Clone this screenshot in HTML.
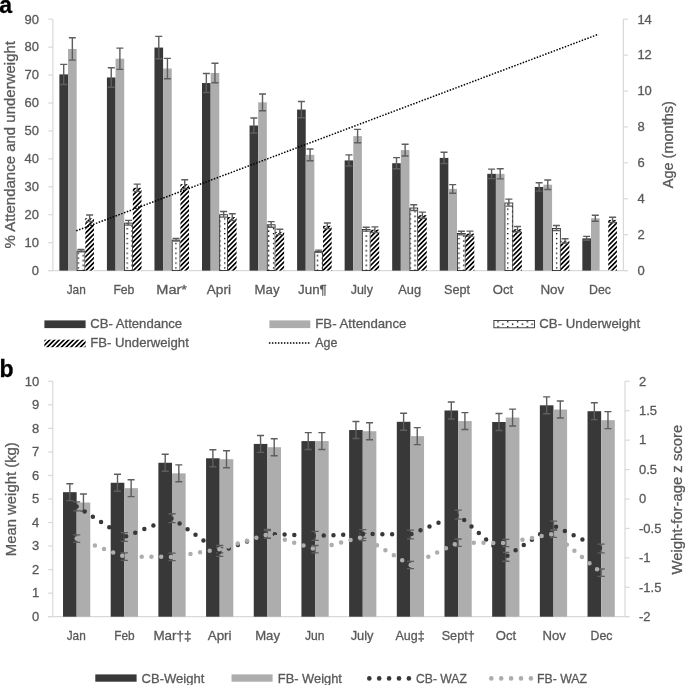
<!DOCTYPE html><html><head><meta charset="utf-8"><style>html,body{margin:0;padding:0;background:#fff;width:685px;height:685px;overflow:hidden}svg{display:block;will-change:transform}text{font-family:"Liberation Sans",sans-serif;fill:#595959;stroke:#595959;stroke-width:0.3px}</style></head><body>
<svg width="685" height="685" viewBox="0 0 685 685">
<defs>
<pattern id="dots" patternUnits="userSpaceOnUse" width="9.76" height="4.9" x="-0.38" y="2.7"><rect width="9.76" height="4.9" fill="#fff"/><rect x="-0.1" y="-0.1" width="1.4" height="1.4" fill="#000"/><rect x="4.78" y="2.35" width="1.4" height="1.4" fill="#000"/></pattern>
<pattern id="hatch" patternUnits="userSpaceOnUse" width="3.35" height="3.35" patternTransform="rotate(45)"><rect width="3.35" height="3.35" fill="#fff"/><rect x="0" y="0" width="1.65" height="3.35" fill="#000"/></pattern>
</defs>
<rect width="685" height="685" fill="#fff"/>
<text x="-0.67" y="12.8" font-size="23" style="fill:#000;stroke:#000" font-weight="bold">a</text>
<line x1="52.9" y1="19.2" x2="52.9" y2="270.6" stroke="#d9d9d9" stroke-width="1.2"/>
<line x1="623.4" y1="19.2" x2="623.4" y2="270.6" stroke="#d9d9d9" stroke-width="1.2"/>
<line x1="48.3" y1="270.6" x2="52.9" y2="270.6" stroke="#d9d9d9" stroke-width="1.2"/>
<text x="39" y="274.9" font-size="13" text-anchor="end">0</text>
<line x1="48.3" y1="242.67" x2="52.9" y2="242.67" stroke="#d9d9d9" stroke-width="1.2"/>
<text x="39" y="246.97" font-size="13" text-anchor="end">10</text>
<line x1="48.3" y1="214.73" x2="52.9" y2="214.73" stroke="#d9d9d9" stroke-width="1.2"/>
<text x="39" y="219.03" font-size="13" text-anchor="end">20</text>
<line x1="48.3" y1="186.8" x2="52.9" y2="186.8" stroke="#d9d9d9" stroke-width="1.2"/>
<text x="39" y="191.1" font-size="13" text-anchor="end">30</text>
<line x1="48.3" y1="158.87" x2="52.9" y2="158.87" stroke="#d9d9d9" stroke-width="1.2"/>
<text x="39" y="163.17" font-size="13" text-anchor="end">40</text>
<line x1="48.3" y1="130.93" x2="52.9" y2="130.93" stroke="#d9d9d9" stroke-width="1.2"/>
<text x="39" y="135.23" font-size="13" text-anchor="end">50</text>
<line x1="48.3" y1="103" x2="52.9" y2="103" stroke="#d9d9d9" stroke-width="1.2"/>
<text x="39" y="107.3" font-size="13" text-anchor="end">60</text>
<line x1="48.3" y1="75.07" x2="52.9" y2="75.07" stroke="#d9d9d9" stroke-width="1.2"/>
<text x="39" y="79.37" font-size="13" text-anchor="end">70</text>
<line x1="48.3" y1="47.13" x2="52.9" y2="47.13" stroke="#d9d9d9" stroke-width="1.2"/>
<text x="39" y="51.43" font-size="13" text-anchor="end">80</text>
<line x1="48.3" y1="19.2" x2="52.9" y2="19.2" stroke="#d9d9d9" stroke-width="1.2"/>
<text x="39" y="23.5" font-size="13" text-anchor="end">90</text>
<line x1="623.4" y1="270.6" x2="628" y2="270.6" stroke="#d9d9d9" stroke-width="1.2"/>
<text x="637.4" y="274.9" font-size="13">0</text>
<line x1="623.4" y1="234.69" x2="628" y2="234.69" stroke="#d9d9d9" stroke-width="1.2"/>
<text x="637.4" y="238.99" font-size="13">2</text>
<line x1="623.4" y1="198.77" x2="628" y2="198.77" stroke="#d9d9d9" stroke-width="1.2"/>
<text x="637.4" y="203.07" font-size="13">4</text>
<line x1="623.4" y1="162.86" x2="628" y2="162.86" stroke="#d9d9d9" stroke-width="1.2"/>
<text x="637.4" y="167.16" font-size="13">6</text>
<line x1="623.4" y1="126.94" x2="628" y2="126.94" stroke="#d9d9d9" stroke-width="1.2"/>
<text x="637.4" y="131.24" font-size="13">8</text>
<line x1="623.4" y1="91.03" x2="628" y2="91.03" stroke="#d9d9d9" stroke-width="1.2"/>
<text x="637.4" y="95.33" font-size="13">10</text>
<line x1="623.4" y1="55.11" x2="628" y2="55.11" stroke="#d9d9d9" stroke-width="1.2"/>
<text x="637.4" y="59.41" font-size="13">12</text>
<line x1="623.4" y1="19.2" x2="628" y2="19.2" stroke="#d9d9d9" stroke-width="1.2"/>
<text x="637.4" y="23.5" font-size="13">14</text>
<line x1="48.3" y1="270.6" x2="628" y2="270.6" stroke="#d9d9d9" stroke-width="1.2"/>
<rect x="59.38" y="74.39" width="8.64" height="196.21" fill="#383838"/>
<rect x="68.03" y="48.97" width="8.64" height="221.63" fill="#adadad"/>
<rect x="77.07" y="251.05" width="7.84" height="19.55" fill="url(#dots)" stroke="#1a1a1a" stroke-width="0.8"/>
<rect x="85.31" y="218.24" width="8.64" height="52.36" fill="url(#hatch)"/>
<rect x="106.92" y="77.46" width="8.64" height="193.14" fill="#383838"/>
<rect x="115.57" y="58.74" width="8.64" height="211.86" fill="#adadad"/>
<rect x="124.61" y="223.11" width="7.84" height="47.49" fill="url(#dots)" stroke="#1a1a1a" stroke-width="0.8"/>
<rect x="132.86" y="187.8" width="8.64" height="82.8" fill="url(#hatch)"/>
<rect x="154.47" y="47.57" width="8.64" height="223.03" fill="#383838"/>
<rect x="163.11" y="68.52" width="8.64" height="202.08" fill="#adadad"/>
<rect x="172.15" y="240.15" width="7.84" height="30.45" fill="url(#dots)" stroke="#1a1a1a" stroke-width="0.8"/>
<rect x="180.4" y="184.17" width="8.64" height="86.43" fill="url(#hatch)"/>
<rect x="202.01" y="83.05" width="8.64" height="187.55" fill="#383838"/>
<rect x="210.65" y="72.99" width="8.64" height="197.61" fill="#adadad"/>
<rect x="219.7" y="214.73" width="7.84" height="55.87" fill="url(#dots)" stroke="#1a1a1a" stroke-width="0.8"/>
<rect x="227.94" y="217.13" width="8.64" height="53.47" fill="url(#hatch)"/>
<rect x="249.55" y="125.51" width="8.64" height="145.09" fill="#383838"/>
<rect x="258.19" y="102.32" width="8.64" height="168.28" fill="#adadad"/>
<rect x="267.24" y="224.79" width="7.84" height="45.81" fill="url(#dots)" stroke="#1a1a1a" stroke-width="0.8"/>
<rect x="275.48" y="231.93" width="8.64" height="38.67" fill="url(#hatch)"/>
<rect x="297.09" y="109.58" width="8.64" height="161.02" fill="#383838"/>
<rect x="305.74" y="154.84" width="8.64" height="115.76" fill="#adadad"/>
<rect x="314.78" y="251.61" width="7.84" height="18.99" fill="url(#dots)" stroke="#1a1a1a" stroke-width="0.8"/>
<rect x="323.02" y="225.79" width="8.64" height="44.81" fill="url(#hatch)"/>
<rect x="344.63" y="160.42" width="8.64" height="110.18" fill="#383838"/>
<rect x="353.28" y="136.12" width="8.64" height="134.48" fill="#adadad"/>
<rect x="362.32" y="229.54" width="7.84" height="41.06" fill="url(#dots)" stroke="#1a1a1a" stroke-width="0.8"/>
<rect x="370.56" y="229.7" width="8.64" height="40.9" fill="url(#hatch)"/>
<rect x="392.17" y="163.22" width="8.64" height="107.38" fill="#383838"/>
<rect x="400.82" y="150.09" width="8.64" height="120.51" fill="#adadad"/>
<rect x="409.86" y="208.03" width="7.84" height="62.57" fill="url(#dots)" stroke="#1a1a1a" stroke-width="0.8"/>
<rect x="418.11" y="215.17" width="8.64" height="55.43" fill="url(#hatch)"/>
<rect x="439.72" y="157.91" width="8.64" height="112.69" fill="#383838"/>
<rect x="448.36" y="188.91" width="8.64" height="81.69" fill="#adadad"/>
<rect x="457.4" y="233.45" width="7.84" height="37.15" fill="url(#dots)" stroke="#1a1a1a" stroke-width="0.8"/>
<rect x="465.65" y="233.61" width="8.64" height="36.99" fill="url(#hatch)"/>
<rect x="487.26" y="173.83" width="8.64" height="96.77" fill="#383838"/>
<rect x="495.9" y="173.83" width="8.64" height="96.77" fill="#adadad"/>
<rect x="504.95" y="203" width="7.84" height="67.6" fill="url(#dots)" stroke="#1a1a1a" stroke-width="0.8"/>
<rect x="513.19" y="229.14" width="8.64" height="41.46" fill="url(#hatch)"/>
<rect x="534.8" y="186.96" width="8.64" height="83.64" fill="#383838"/>
<rect x="543.44" y="184.72" width="8.64" height="85.88" fill="#adadad"/>
<rect x="552.49" y="228.42" width="7.84" height="42.18" fill="url(#dots)" stroke="#1a1a1a" stroke-width="0.8"/>
<rect x="560.73" y="240.87" width="8.64" height="29.73" fill="url(#hatch)"/>
<rect x="582.34" y="238.36" width="8.64" height="32.24" fill="#383838"/>
<rect x="590.99" y="218.24" width="8.64" height="52.36" fill="#adadad"/>
<rect x="608.27" y="219.92" width="8.64" height="50.68" fill="url(#hatch)"/>
<path d="M63.7 64.33V84.44M60.2 64.33H67.2M60.2 84.44H67.2" stroke="#5e5e5e" stroke-width="1.4" fill="none"/>
<path d="M72.35 37.79V60.14M68.85 37.79H75.85M68.85 60.14H75.85" stroke="#5e5e5e" stroke-width="1.4" fill="none"/>
<path d="M80.99 249.53V251.76M77.49 249.53H84.49M77.49 251.76H84.49" stroke="#5e5e5e" stroke-width="1.4" fill="none"/>
<path d="M89.64 215.03V221.46M86.14 215.03H93.14M86.14 221.46H93.14" stroke="#5e5e5e" stroke-width="1.4" fill="none"/>
<path d="M111.25 67.68V87.24M107.75 67.68H114.75M107.75 87.24H114.75" stroke="#5e5e5e" stroke-width="1.4" fill="none"/>
<path d="M119.89 48.13V69.36M116.39 48.13H123.39M116.39 69.36H123.39" stroke="#5e5e5e" stroke-width="1.4" fill="none"/>
<path d="M128.53 220.34V225.09M125.03 220.34H132.03M125.03 225.09H132.03" stroke="#5e5e5e" stroke-width="1.4" fill="none"/>
<path d="M137.18 184.17V191.43M133.68 184.17H140.68M133.68 191.43H140.68" stroke="#5e5e5e" stroke-width="1.4" fill="none"/>
<path d="M158.79 36.4V58.74M155.29 36.4H162.29M155.29 58.74H162.29" stroke="#5e5e5e" stroke-width="1.4" fill="none"/>
<path d="M167.43 58.33V78.72M163.93 58.33H170.93M163.93 78.72H170.93" stroke="#5e5e5e" stroke-width="1.4" fill="none"/>
<path d="M176.08 238.5V241.01M172.58 238.5H179.58M172.58 241.01H179.58" stroke="#5e5e5e" stroke-width="1.4" fill="none"/>
<path d="M184.72 179.7V188.63M181.22 179.7H188.22M181.22 188.63H188.22" stroke="#5e5e5e" stroke-width="1.4" fill="none"/>
<path d="M206.33 73.55V92.54M202.83 73.55H209.83M202.83 92.54H209.83" stroke="#5e5e5e" stroke-width="1.4" fill="none"/>
<path d="M214.97 63.21V82.77M211.47 63.21H218.47M211.47 82.77H218.47" stroke="#5e5e5e" stroke-width="1.4" fill="none"/>
<path d="M223.62 211.54V217.13M220.12 211.54H227.12M220.12 217.13H227.12" stroke="#5e5e5e" stroke-width="1.4" fill="none"/>
<path d="M232.26 213.77V220.48M228.76 213.77H235.76M228.76 220.48H235.76" stroke="#5e5e5e" stroke-width="1.4" fill="none"/>
<path d="M253.87 117.96V133.05M250.37 117.96H257.37M250.37 133.05H257.37" stroke="#5e5e5e" stroke-width="1.4" fill="none"/>
<path d="M262.52 93.94V110.7M259.02 93.94H266.02M259.02 110.7H266.02" stroke="#5e5e5e" stroke-width="1.4" fill="none"/>
<path d="M271.16 221.6V227.18M267.66 221.6H274.66M267.66 227.18H274.66" stroke="#5e5e5e" stroke-width="1.4" fill="none"/>
<path d="M279.8 229.28V234.59M276.3 229.28H283.3M276.3 234.59H283.3" stroke="#5e5e5e" stroke-width="1.4" fill="none"/>
<path d="M301.41 101.48V117.68M297.91 101.48H304.91M297.91 117.68H304.91" stroke="#5e5e5e" stroke-width="1.4" fill="none"/>
<path d="M310.06 148.97V160.7M306.56 148.97H313.56M306.56 160.7H313.56" stroke="#5e5e5e" stroke-width="1.4" fill="none"/>
<path d="M318.7 250.09V252.32M315.2 250.09H322.2M315.2 252.32H322.2" stroke="#5e5e5e" stroke-width="1.4" fill="none"/>
<path d="M327.35 222.99V228.58M323.85 222.99H330.85M323.85 228.58H330.85" stroke="#5e5e5e" stroke-width="1.4" fill="none"/>
<path d="M348.95 154.84V166.01M345.45 154.84H352.45M345.45 166.01H352.45" stroke="#5e5e5e" stroke-width="1.4" fill="none"/>
<path d="M357.6 129.42V142.82M354.1 129.42H361.1M354.1 142.82H361.1" stroke="#5e5e5e" stroke-width="1.4" fill="none"/>
<path d="M366.24 227.18V231.09M362.74 227.18H369.74M362.74 231.09H369.74" stroke="#5e5e5e" stroke-width="1.4" fill="none"/>
<path d="M374.89 226.9V232.49M371.39 226.9H378.39M371.39 232.49H378.39" stroke="#5e5e5e" stroke-width="1.4" fill="none"/>
<path d="M396.5 157.63V168.8M393 157.63H400M393 168.8H400" stroke="#5e5e5e" stroke-width="1.4" fill="none"/>
<path d="M405.14 144.22V155.95M401.64 144.22H408.64M401.64 155.95H408.64" stroke="#5e5e5e" stroke-width="1.4" fill="none"/>
<path d="M413.78 204.7V210.56M410.28 204.7H417.28M410.28 210.56H417.28" stroke="#5e5e5e" stroke-width="1.4" fill="none"/>
<path d="M422.43 212.1V218.24M418.93 212.1H425.93M418.93 218.24H425.93" stroke="#5e5e5e" stroke-width="1.4" fill="none"/>
<path d="M444.04 152.32V163.49M440.54 152.32H447.54M440.54 163.49H447.54" stroke="#5e5e5e" stroke-width="1.4" fill="none"/>
<path d="M452.68 184.58V193.24M449.18 184.58H456.18M449.18 193.24H456.18" stroke="#5e5e5e" stroke-width="1.4" fill="none"/>
<path d="M461.33 231.23V234.86M457.83 231.23H464.83M457.83 234.86H464.83" stroke="#5e5e5e" stroke-width="1.4" fill="none"/>
<path d="M469.97 231.09V236.12M466.47 231.09H473.47M466.47 236.12H473.47" stroke="#5e5e5e" stroke-width="1.4" fill="none"/>
<path d="M491.58 169.08V178.58M488.08 169.08H495.08M488.08 178.58H495.08" stroke="#5e5e5e" stroke-width="1.4" fill="none"/>
<path d="M500.22 168.8V178.86M496.72 168.8H503.72M496.72 178.86H503.72" stroke="#5e5e5e" stroke-width="1.4" fill="none"/>
<path d="M508.87 199.11V206.09M505.37 199.11H512.37M505.37 206.09H512.37" stroke="#5e5e5e" stroke-width="1.4" fill="none"/>
<path d="M517.51 226.48V231.79M514.01 226.48H521.01M514.01 231.79H521.01" stroke="#5e5e5e" stroke-width="1.4" fill="none"/>
<path d="M539.12 182.77V191.15M535.62 182.77H542.62M535.62 191.15H542.62" stroke="#5e5e5e" stroke-width="1.4" fill="none"/>
<path d="M547.77 179.98V189.47M544.27 179.98H551.27M544.27 189.47H551.27" stroke="#5e5e5e" stroke-width="1.4" fill="none"/>
<path d="M556.41 225.51V230.53M552.91 225.51H559.91M552.91 230.53H559.91" stroke="#5e5e5e" stroke-width="1.4" fill="none"/>
<path d="M565.05 238.78V242.97M561.55 238.78H568.55M561.55 242.97H568.55" stroke="#5e5e5e" stroke-width="1.4" fill="none"/>
<path d="M586.66 236.4V240.31M583.16 236.4H590.16M583.16 240.31H590.16" stroke="#5e5e5e" stroke-width="1.4" fill="none"/>
<path d="M595.31 215.31V221.18M591.81 215.31H598.81M591.81 221.18H598.81" stroke="#5e5e5e" stroke-width="1.4" fill="none"/>
<path d="M612.6 217.27V222.57M609.1 217.27H616.1M609.1 222.57H616.1" stroke="#5e5e5e" stroke-width="1.4" fill="none"/>
<path d="M76.27 230.8L598.63 34.2" stroke="#000" stroke-width="1.5" stroke-dasharray="1.5 1.5" fill="none"/>
<text x="66.7" y="293.6" font-size="13" textLength="19" lengthAdjust="spacingAndGlyphs">Jan</text>
<text x="113.4" y="293.6" font-size="13" textLength="21" lengthAdjust="spacingAndGlyphs">Feb</text>
<text x="156.3" y="293.6" font-size="13" textLength="30.7" lengthAdjust="spacingAndGlyphs">Mar*</text>
<text x="206.8" y="293.6" font-size="13" textLength="24.2" lengthAdjust="spacingAndGlyphs">Apri</text>
<text x="254.6" y="293.6" font-size="13" textLength="24.9" lengthAdjust="spacingAndGlyphs">May</text>
<text x="298.1" y="293.6" font-size="13" textLength="28.7" lengthAdjust="spacingAndGlyphs">Jun¶</text>
<text x="350.7" y="293.6" font-size="13" textLength="22.2" lengthAdjust="spacingAndGlyphs">July</text>
<text x="398.3" y="293.6" font-size="13" textLength="22.8" lengthAdjust="spacingAndGlyphs">Aug</text>
<text x="444" y="293.6" font-size="13" textLength="26" lengthAdjust="spacingAndGlyphs">Sept</text>
<text x="492.8" y="293.6" font-size="13" textLength="20.4" lengthAdjust="spacingAndGlyphs">Oct</text>
<text x="540.4" y="293.6" font-size="13" textLength="23.9" lengthAdjust="spacingAndGlyphs">Nov</text>
<text x="589.1" y="293.6" font-size="13" textLength="21.9" lengthAdjust="spacingAndGlyphs">Dec</text>
<text x="15.2" y="144.75" font-size="15" text-anchor="middle" textLength="207.5" lengthAdjust="spacingAndGlyphs" transform="rotate(-90 15.2 144.75)">% Attendance and underweight</text>
<text x="672.6" y="144.7" font-size="14.5" text-anchor="middle" textLength="87.1" lengthAdjust="spacingAndGlyphs" transform="rotate(-90 672.6 144.7)">Age (months)</text>
<rect x="44.4" y="320.4" width="41.2" height="7.7" fill="#383838"/>
<text x="90.3" y="328" font-size="13.1" textLength="91.8" lengthAdjust="spacingAndGlyphs">CB- Attendance</text>
<rect x="269.4" y="320.4" width="40.9" height="7.7" fill="#adadad"/>
<text x="315.3" y="328" font-size="13.1" textLength="91.1" lengthAdjust="spacingAndGlyphs">FB- Attendance</text>
<rect x="493.9" y="320.4" width="40.5" height="7.4" fill="url(#dots)" stroke="#1a1a1a" stroke-width="0.8"/>
<text x="539.3" y="328" font-size="13.1" textLength="100.8" lengthAdjust="spacingAndGlyphs">CB- Underweight</text>
<rect x="44.4" y="339.7" width="41.2" height="7.5" fill="url(#hatch)"/>
<text x="90.3" y="347.2" font-size="13.1" textLength="98.5" lengthAdjust="spacingAndGlyphs">FB- Underweight</text>
<line x1="268.9" y1="342.9" x2="310.3" y2="342.9" stroke="#000" stroke-width="1.5" stroke-dasharray="1.5 1.5"/>
<text x="315.3" y="347.2" font-size="13.1" textLength="22.1" lengthAdjust="spacingAndGlyphs">Age</text>
<text x="-0.6" y="376.5" font-size="23" style="fill:#000;stroke:#000" font-weight="bold">b</text>
<line x1="52.8" y1="381.3" x2="52.8" y2="616.7" stroke="#d9d9d9" stroke-width="1.2"/>
<line x1="625" y1="381.3" x2="625" y2="616.7" stroke="#d9d9d9" stroke-width="1.2"/>
<line x1="48.2" y1="616.7" x2="52.8" y2="616.7" stroke="#d9d9d9" stroke-width="1.2"/>
<text x="39.2" y="621" font-size="13" text-anchor="end">0</text>
<line x1="48.2" y1="593.16" x2="52.8" y2="593.16" stroke="#d9d9d9" stroke-width="1.2"/>
<text x="39.2" y="597.46" font-size="13" text-anchor="end">1</text>
<line x1="48.2" y1="569.62" x2="52.8" y2="569.62" stroke="#d9d9d9" stroke-width="1.2"/>
<text x="39.2" y="573.92" font-size="13" text-anchor="end">2</text>
<line x1="48.2" y1="546.08" x2="52.8" y2="546.08" stroke="#d9d9d9" stroke-width="1.2"/>
<text x="39.2" y="550.38" font-size="13" text-anchor="end">3</text>
<line x1="48.2" y1="522.54" x2="52.8" y2="522.54" stroke="#d9d9d9" stroke-width="1.2"/>
<text x="39.2" y="526.84" font-size="13" text-anchor="end">4</text>
<line x1="48.2" y1="499" x2="52.8" y2="499" stroke="#d9d9d9" stroke-width="1.2"/>
<text x="39.2" y="503.3" font-size="13" text-anchor="end">5</text>
<line x1="48.2" y1="475.46" x2="52.8" y2="475.46" stroke="#d9d9d9" stroke-width="1.2"/>
<text x="39.2" y="479.76" font-size="13" text-anchor="end">6</text>
<line x1="48.2" y1="451.92" x2="52.8" y2="451.92" stroke="#d9d9d9" stroke-width="1.2"/>
<text x="39.2" y="456.22" font-size="13" text-anchor="end">7</text>
<line x1="48.2" y1="428.38" x2="52.8" y2="428.38" stroke="#d9d9d9" stroke-width="1.2"/>
<text x="39.2" y="432.68" font-size="13" text-anchor="end">8</text>
<line x1="48.2" y1="404.84" x2="52.8" y2="404.84" stroke="#d9d9d9" stroke-width="1.2"/>
<text x="39.2" y="409.14" font-size="13" text-anchor="end">9</text>
<line x1="48.2" y1="381.3" x2="52.8" y2="381.3" stroke="#d9d9d9" stroke-width="1.2"/>
<text x="39.2" y="385.6" font-size="13" text-anchor="end">10</text>
<line x1="625" y1="616.7" x2="629.6" y2="616.7" stroke="#d9d9d9" stroke-width="1.2"/>
<text x="639" y="621" font-size="13">-2</text>
<line x1="625" y1="587.27" x2="629.6" y2="587.27" stroke="#d9d9d9" stroke-width="1.2"/>
<text x="639" y="591.57" font-size="13">-1.5</text>
<line x1="625" y1="557.85" x2="629.6" y2="557.85" stroke="#d9d9d9" stroke-width="1.2"/>
<text x="639" y="562.15" font-size="13">-1</text>
<line x1="625" y1="528.42" x2="629.6" y2="528.42" stroke="#d9d9d9" stroke-width="1.2"/>
<text x="639" y="532.72" font-size="13">-0.5</text>
<line x1="625" y1="499" x2="629.6" y2="499" stroke="#d9d9d9" stroke-width="1.2"/>
<text x="639" y="503.3" font-size="13">0</text>
<line x1="625" y1="469.57" x2="629.6" y2="469.57" stroke="#d9d9d9" stroke-width="1.2"/>
<text x="639" y="473.88" font-size="13">0.5</text>
<line x1="625" y1="440.15" x2="629.6" y2="440.15" stroke="#d9d9d9" stroke-width="1.2"/>
<text x="639" y="444.45" font-size="13">1</text>
<line x1="625" y1="410.73" x2="629.6" y2="410.73" stroke="#d9d9d9" stroke-width="1.2"/>
<text x="639" y="415.03" font-size="13">1.5</text>
<line x1="625" y1="381.3" x2="629.6" y2="381.3" stroke="#d9d9d9" stroke-width="1.2"/>
<text x="639" y="385.6" font-size="13">2</text>
<line x1="48.2" y1="616.7" x2="629.6" y2="616.7" stroke="#d9d9d9" stroke-width="1.2"/>
<rect x="63.02" y="492.17" width="13.62" height="124.53" fill="#383838"/>
<rect x="76.64" y="502.53" width="13.62" height="114.17" fill="#adadad"/>
<rect x="110.7" y="482.76" width="13.62" height="133.94" fill="#383838"/>
<rect x="124.33" y="488.17" width="13.62" height="128.53" fill="#adadad"/>
<rect x="158.38" y="462.75" width="13.62" height="153.95" fill="#383838"/>
<rect x="172.01" y="473.34" width="13.62" height="143.36" fill="#adadad"/>
<rect x="206.07" y="458.28" width="13.62" height="158.42" fill="#383838"/>
<rect x="219.69" y="459.22" width="13.62" height="157.48" fill="#adadad"/>
<rect x="253.75" y="443.92" width="13.62" height="172.78" fill="#383838"/>
<rect x="267.38" y="447.21" width="13.62" height="169.49" fill="#adadad"/>
<rect x="301.43" y="441.09" width="13.62" height="175.61" fill="#383838"/>
<rect x="315.06" y="441.09" width="13.62" height="175.61" fill="#adadad"/>
<rect x="349.12" y="430.03" width="13.62" height="186.67" fill="#383838"/>
<rect x="362.74" y="431.2" width="13.62" height="185.5" fill="#adadad"/>
<rect x="396.8" y="421.79" width="13.62" height="194.91" fill="#383838"/>
<rect x="410.43" y="436.15" width="13.62" height="180.55" fill="#adadad"/>
<rect x="444.48" y="410.49" width="13.62" height="206.21" fill="#383838"/>
<rect x="458.11" y="421.08" width="13.62" height="195.62" fill="#adadad"/>
<rect x="492.17" y="422.02" width="13.62" height="194.68" fill="#383838"/>
<rect x="505.79" y="417.55" width="13.62" height="199.15" fill="#adadad"/>
<rect x="539.85" y="405.31" width="13.62" height="211.39" fill="#383838"/>
<rect x="553.48" y="409.55" width="13.62" height="207.15" fill="#adadad"/>
<rect x="587.53" y="411.2" width="13.62" height="205.5" fill="#383838"/>
<rect x="601.16" y="420.14" width="13.62" height="196.56" fill="#adadad"/>
<path d="M69.83 483.7V500.65M66.33 483.7H73.33M66.33 500.65H73.33" stroke="#5e5e5e" stroke-width="1.4" fill="none"/>
<path d="M83.45 494.06V511.01M79.95 494.06H86.95M79.95 511.01H86.95" stroke="#5e5e5e" stroke-width="1.4" fill="none"/>
<path d="M117.51 474.28V491.23M114.01 474.28H121.01M114.01 491.23H121.01" stroke="#5e5e5e" stroke-width="1.4" fill="none"/>
<path d="M131.14 479.7V496.65M127.64 479.7H134.64M127.64 496.65H134.64" stroke="#5e5e5e" stroke-width="1.4" fill="none"/>
<path d="M165.2 454.27V471.22M161.7 454.27H168.7M161.7 471.22H168.7" stroke="#5e5e5e" stroke-width="1.4" fill="none"/>
<path d="M178.82 464.87V481.82M175.32 464.87H182.32M175.32 481.82H182.32" stroke="#5e5e5e" stroke-width="1.4" fill="none"/>
<path d="M212.88 449.8V466.75M209.38 449.8H216.38M209.38 466.75H216.38" stroke="#5e5e5e" stroke-width="1.4" fill="none"/>
<path d="M226.5 450.74V467.69M223 450.74H230M223 467.69H230" stroke="#5e5e5e" stroke-width="1.4" fill="none"/>
<path d="M260.56 435.44V452.39M257.06 435.44H264.06M257.06 452.39H264.06" stroke="#5e5e5e" stroke-width="1.4" fill="none"/>
<path d="M274.19 438.74V455.69M270.69 438.74H277.69M270.69 455.69H277.69" stroke="#5e5e5e" stroke-width="1.4" fill="none"/>
<path d="M308.25 432.62V449.57M304.75 432.62H311.75M304.75 449.57H311.75" stroke="#5e5e5e" stroke-width="1.4" fill="none"/>
<path d="M321.87 432.62V449.57M318.37 432.62H325.37M318.37 449.57H325.37" stroke="#5e5e5e" stroke-width="1.4" fill="none"/>
<path d="M355.93 421.55V438.5M352.43 421.55H359.43M352.43 438.5H359.43" stroke="#5e5e5e" stroke-width="1.4" fill="none"/>
<path d="M369.55 422.73V439.68M366.05 422.73H373.05M366.05 439.68H373.05" stroke="#5e5e5e" stroke-width="1.4" fill="none"/>
<path d="M403.61 413.31V430.26M400.11 413.31H407.11M400.11 430.26H407.11" stroke="#5e5e5e" stroke-width="1.4" fill="none"/>
<path d="M417.24 427.67V444.62M413.74 427.67H420.74M413.74 444.62H420.74" stroke="#5e5e5e" stroke-width="1.4" fill="none"/>
<path d="M451.3 402.02V418.96M447.8 402.02H454.8M447.8 418.96H454.8" stroke="#5e5e5e" stroke-width="1.4" fill="none"/>
<path d="M464.92 412.61V429.56M461.42 412.61H468.42M461.42 429.56H468.42" stroke="#5e5e5e" stroke-width="1.4" fill="none"/>
<path d="M498.98 413.55V430.5M495.48 413.55H502.48M495.48 430.5H502.48" stroke="#5e5e5e" stroke-width="1.4" fill="none"/>
<path d="M512.6 409.08V426.03M509.1 409.08H516.1M509.1 426.03H516.1" stroke="#5e5e5e" stroke-width="1.4" fill="none"/>
<path d="M546.66 396.84V413.79M543.16 396.84H550.16M543.16 413.79H550.16" stroke="#5e5e5e" stroke-width="1.4" fill="none"/>
<path d="M560.29 401.07V418.02M556.79 401.07H563.79M556.79 418.02H563.79" stroke="#5e5e5e" stroke-width="1.4" fill="none"/>
<path d="M594.35 402.72V419.67M590.85 402.72H597.85M590.85 419.67H597.85" stroke="#5e5e5e" stroke-width="1.4" fill="none"/>
<path d="M607.97 411.67V428.62M604.47 411.67H611.47M604.47 428.62H611.47" stroke="#5e5e5e" stroke-width="1.4" fill="none"/>
<path d="M76.64 501.95V510.85M73.04 501.95H80.24M73.04 510.85H80.24" stroke="#5e5e5e" stroke-width="1.3" fill="none"/>
<path d="M76.64 534.9V542.3M73.04 534.9H80.24M73.04 542.3H80.24" stroke="#5e5e5e" stroke-width="1.3" fill="none"/>
<path d="M124.33 532.55V541.45M120.73 532.55H127.92M120.73 541.45H127.92" stroke="#5e5e5e" stroke-width="1.3" fill="none"/>
<path d="M124.33 552.9V560.3M120.73 552.9H127.92M120.73 560.3H127.92" stroke="#5e5e5e" stroke-width="1.3" fill="none"/>
<path d="M172.01 513.75V522.65M168.41 513.75H175.61M168.41 522.65H175.61" stroke="#5e5e5e" stroke-width="1.3" fill="none"/>
<path d="M172.01 553.2V560.6M168.41 553.2H175.61M168.41 560.6H175.61" stroke="#5e5e5e" stroke-width="1.3" fill="none"/>
<path d="M219.69 547.55V556.45M216.09 547.55H223.29M216.09 556.45H223.29" stroke="#5e5e5e" stroke-width="1.3" fill="none"/>
<path d="M219.69 545.5V552.9M216.09 545.5H223.29M216.09 552.9H223.29" stroke="#5e5e5e" stroke-width="1.3" fill="none"/>
<path d="M267.38 529.45V538.35M263.77 529.45H270.98M263.77 538.35H270.98" stroke="#5e5e5e" stroke-width="1.3" fill="none"/>
<path d="M267.38 530.7V538.1M263.77 530.7H270.98M263.77 538.1H270.98" stroke="#5e5e5e" stroke-width="1.3" fill="none"/>
<path d="M315.06 531.45V540.35M311.46 531.45H318.66M311.46 540.35H318.66" stroke="#5e5e5e" stroke-width="1.3" fill="none"/>
<path d="M315.06 545.5V552.9M311.46 545.5H318.66M311.46 552.9H318.66" stroke="#5e5e5e" stroke-width="1.3" fill="none"/>
<path d="M362.74 529.55V538.45M359.14 529.55H366.34M359.14 538.45H366.34" stroke="#5e5e5e" stroke-width="1.3" fill="none"/>
<path d="M362.74 533.3V540.7M359.14 533.3H366.34M359.14 540.7H366.34" stroke="#5e5e5e" stroke-width="1.3" fill="none"/>
<path d="M410.43 530.05V538.95M406.82 530.05H414.03M406.82 538.95H414.03" stroke="#5e5e5e" stroke-width="1.3" fill="none"/>
<path d="M410.43 561.3V568.7M406.82 561.3H414.03M406.82 568.7H414.03" stroke="#5e5e5e" stroke-width="1.3" fill="none"/>
<path d="M458.11 510.15V519.05M454.51 510.15H461.71M454.51 519.05H461.71" stroke="#5e5e5e" stroke-width="1.3" fill="none"/>
<path d="M458.11 539V546.4M454.51 539H461.71M454.51 546.4H461.71" stroke="#5e5e5e" stroke-width="1.3" fill="none"/>
<path d="M505.79 552.35V561.25M502.19 552.35H509.39M502.19 561.25H509.39" stroke="#5e5e5e" stroke-width="1.3" fill="none"/>
<path d="M505.79 539.3V546.7M502.19 539.3H509.39M502.19 546.7H509.39" stroke="#5e5e5e" stroke-width="1.3" fill="none"/>
<path d="M553.48 521.05V529.95M549.88 521.05H557.08M549.88 529.95H557.08" stroke="#5e5e5e" stroke-width="1.3" fill="none"/>
<path d="M553.48 530V537.4M549.88 530H557.08M549.88 537.4H557.08" stroke="#5e5e5e" stroke-width="1.3" fill="none"/>
<path d="M601.16 544.05V552.95M597.56 544.05H604.76M597.56 552.95H604.76" stroke="#5e5e5e" stroke-width="1.3" fill="none"/>
<path d="M601.16 569V576.4M597.56 569H604.76M597.56 576.4H604.76" stroke="#5e5e5e" stroke-width="1.3" fill="none"/>
<g stroke="#383838" stroke-width="4.5" stroke-linecap="round" fill="none">
<path d="M76.64 506.4L124.33 537" stroke-dasharray="0 9.75" stroke-dashoffset="0.24"/>
<path d="M124.33 537L172.01 518.2" stroke-dasharray="0 9.75" stroke-dashoffset="7.76"/>
<path d="M172.01 518.2L219.69 552" stroke-dasharray="0 9.75" stroke-dashoffset="0.45"/>
<path d="M219.69 552L267.38 533.9" stroke-dasharray="0 9.75" stroke-dashoffset="0.01"/>
<path d="M267.38 533.9L315.06 535.9" stroke-dasharray="0 9.75" stroke-dashoffset="2.29"/>
<path d="M315.06 535.9L362.74 534" stroke-dasharray="0 9.75" stroke-dashoffset="1.07"/>
<path d="M362.74 534L410.43 534.5" stroke-dasharray="0 9.75" stroke-dashoffset="9.62"/>
<path d="M410.43 534.5L458.11 514.6" stroke-dasharray="0 9.75" stroke-dashoffset="8.59"/>
<path d="M458.11 514.6L505.79 556.8" stroke-dasharray="0 9.75" stroke-dashoffset="1.61"/>
<path d="M505.79 556.8L553.48 525.5" stroke-dasharray="0 9.75" stroke-dashoffset="7.76"/>
<path d="M553.48 525.5L601.16 548.5" stroke-dasharray="0 9.75" stroke-dashoffset="6.88"/>
</g>
<g stroke="#adadad" stroke-width="4.5" stroke-linecap="round" fill="none">
<path d="M76.64 538.6L124.33 556.6" stroke-dasharray="0 9.75" stroke-dashoffset="9.72"/>
<path d="M124.33 556.6L172.01 556.9" stroke-dasharray="0 9.75" stroke-dashoffset="2.14"/>
<path d="M172.01 556.9L219.69 549.2" stroke-dasharray="0 9.75" stroke-dashoffset="0.81"/>
<path d="M219.69 549.2L267.38 534.4" stroke-dasharray="0 9.75" stroke-dashoffset="0.59"/>
<path d="M267.38 534.4L315.06 549.2" stroke-dasharray="0 9.75" stroke-dashoffset="1.19"/>
<path d="M315.06 549.2L362.74 537" stroke-dasharray="0 9.75" stroke-dashoffset="2.38"/>
<path d="M362.74 537L410.43 565" stroke-dasharray="0 9.75" stroke-dashoffset="2.97"/>
<path d="M410.43 565L458.11 542.7" stroke-dasharray="0 9.75" stroke-dashoffset="9.5"/>
<path d="M458.11 542.7L505.79 543" stroke-dasharray="0 9.75" stroke-dashoffset="3.82"/>
<path d="M505.79 543L553.48 533.7" stroke-dasharray="0 9.75" stroke-dashoffset="2.5"/>
<path d="M553.48 533.7L601.16 572.7" stroke-dasharray="0 9.75" stroke-dashoffset="2.23"/>
</g>
<circle cx="76.64" cy="506.4" r="2.25" fill="#383838"/>
<text x="66.7" y="640.2" font-size="13" textLength="19" lengthAdjust="spacingAndGlyphs">Jan</text>
<text x="114.3" y="640.2" font-size="13" textLength="20.4" lengthAdjust="spacingAndGlyphs">Feb</text>
<text x="153.4" y="640.2" font-size="13" textLength="38" lengthAdjust="spacingAndGlyphs">Mar†‡</text>
<text x="207.7" y="640.2" font-size="13" textLength="23.9" lengthAdjust="spacingAndGlyphs">Apri</text>
<text x="255.2" y="640.2" font-size="13" textLength="24.8" lengthAdjust="spacingAndGlyphs">May</text>
<text x="304.9" y="640.2" font-size="13" textLength="19.5" lengthAdjust="spacingAndGlyphs">Jun</text>
<text x="350.7" y="640.2" font-size="13" textLength="22.8" lengthAdjust="spacingAndGlyphs">July</text>
<text x="395.4" y="640.2" font-size="13" textLength="29.2" lengthAdjust="spacingAndGlyphs">Aug‡</text>
<text x="441.7" y="640.2" font-size="13" textLength="33" lengthAdjust="spacingAndGlyphs">Sept†</text>
<text x="495.7" y="640.2" font-size="13" textLength="20.4" lengthAdjust="spacingAndGlyphs">Oct</text>
<text x="542.4" y="640.2" font-size="13" textLength="23.4" lengthAdjust="spacingAndGlyphs">Nov</text>
<text x="590.6" y="640.2" font-size="13" textLength="21.9" lengthAdjust="spacingAndGlyphs">Dec</text>
<text x="15.9" y="499.2" font-size="15" text-anchor="middle" textLength="114" lengthAdjust="spacingAndGlyphs" transform="rotate(-90 15.9 499.2)">Mean weight (kg)</text>
<text x="682.5" y="499.7" font-size="15" text-anchor="middle" textLength="149.8" lengthAdjust="spacingAndGlyphs" transform="rotate(-90 682.5 499.7)">Weight-for-age z score</text>
<rect x="95.3" y="674.4" width="41.3" height="7.3" fill="#383838"/>
<text x="141.6" y="682.6" font-size="13.1" textLength="62.8" lengthAdjust="spacingAndGlyphs">CB-Weight</text>
<rect x="231.5" y="674.4" width="41.1" height="7.3" fill="#adadad"/>
<text x="277.8" y="682.6" font-size="13.1" textLength="64.1" lengthAdjust="spacingAndGlyphs">FB- Weight</text>
<circle cx="369.3" cy="678.4" r="2.3" fill="#383838"/>
<circle cx="379.2" cy="678.4" r="2.3" fill="#383838"/>
<circle cx="389.1" cy="678.4" r="2.3" fill="#383838"/>
<circle cx="399" cy="678.4" r="2.3" fill="#383838"/>
<circle cx="408.9" cy="678.4" r="2.3" fill="#383838"/>
<text x="416" y="682.6" font-size="13.1" textLength="50.9" lengthAdjust="spacingAndGlyphs">CB- WAZ</text>
<circle cx="491.3" cy="678.4" r="2.3" fill="#adadad"/>
<circle cx="501.2" cy="678.4" r="2.3" fill="#adadad"/>
<circle cx="511.1" cy="678.4" r="2.3" fill="#adadad"/>
<circle cx="521" cy="678.4" r="2.3" fill="#adadad"/>
<circle cx="530.9" cy="678.4" r="2.3" fill="#adadad"/>
<text x="537" y="682.6" font-size="13.1" textLength="50" lengthAdjust="spacingAndGlyphs">FB- WAZ</text>
</svg></body></html>
